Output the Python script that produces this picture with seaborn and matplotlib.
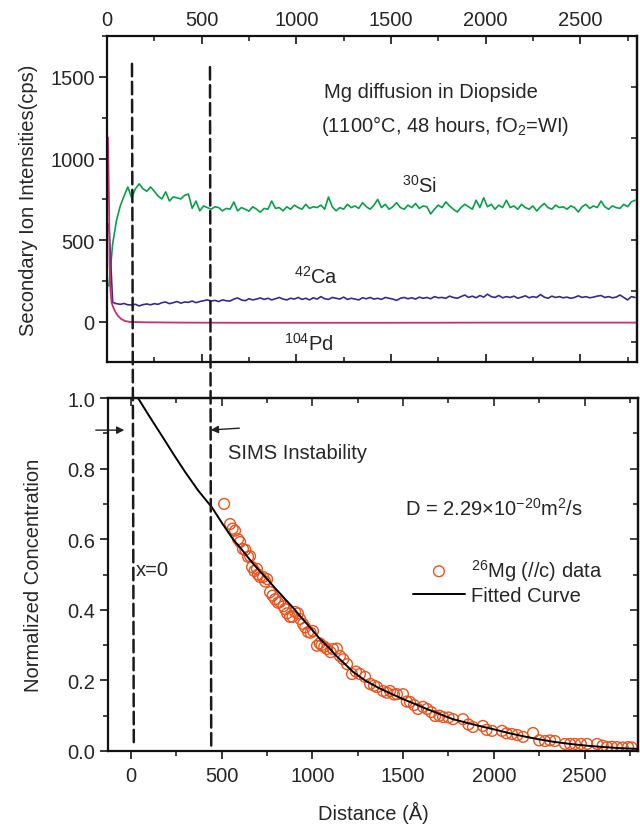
import numpy as np
import matplotlib
matplotlib.use('Agg')
import matplotlib.pyplot as plt
import seaborn as sns
from matplotlib.patches import ConnectionPatch
from matplotlib.ticker import MultipleLocator, FixedLocator, NullFormatter

# depth grid of the SIMS traces (Angstrom) and the traces
trace_x = np.arange(10, 2800, 20)

si_30 = [220, 480, 620, 710, 770, 826, 760, 815, 845, 815,
         800, 826, 800, 770, 753, 796, 740, 765, 760, 753,
         775, 783, 695, 740, 680, 710, 700, 690, 705, 700,
         680, 695, 690, 734, 680, 700, 690, 678, 705, 690,
         672, 695, 690, 740, 695, 700, 680, 705, 690, 715,
         700, 690, 720, 695, 705, 700, 715, 690, 765, 705,
         680, 700, 690, 720, 700, 710, 695, 730, 705, 690,
         715, 750, 700, 720, 690, 705, 730, 700, 690, 715,
         700, 725, 695, 710, 705, 661, 690, 715, 700, 735,
         710, 690, 673, 700, 720, 705, 690, 745, 700, 760,
         705, 720, 690, 715, 700, 745, 700, 710, 690, 720,
         700, 690, 710, 679, 705, 725, 700, 690, 715, 700,
         705, 690, 710, 700, 673, 705, 720, 695, 710, 700,
         740, 705, 690, 710, 700, 695, 720, 705, 735, 745]

ca_42 = [600, 120, 112, 108, 113, 105, 104, 108, 98, 106,
         110, 105, 112, 108, 118, 122, 112, 118, 125, 115,
         122, 120, 128, 118, 125, 130, 135, 128, 132, 125,
         135, 130, 128, 140, 147, 135, 130, 142, 135, 140,
         147, 138, 145, 135, 142, 150, 140, 135, 145, 140,
         150, 138, 145, 135, 148, 140, 155, 142, 138, 150,
         145, 140, 152, 138, 145, 140, 135, 148, 142, 150,
         140, 145, 138, 150, 145, 140, 132, 145, 150, 142,
         148, 140, 152, 145, 150, 142, 155, 148, 150, 145,
         158, 150, 145, 155, 165, 150, 158, 148, 162, 152,
         170, 155, 150, 162, 148, 155, 150, 158, 145, 152,
         160, 148, 155, 150, 168, 152, 145, 158, 150, 155,
         148, 152, 145, 150, 160, 150, 155, 148, 152, 158,
         162, 150, 155, 148, 152, 165, 150, 135, 155, 150]

pd_x = [5, 11, 14, 18, 24, 32, 45, 58, 75, 95, 120, 200, 400, 700, 1000, 1500, 2000, 2500, 2800]
pd_104 = [1130, 700, 350, 200, 120, 92, 60, 37, 18, 6, 0, -2, -4, -5, -5, -5, -4, -4, -4]

# normalized 26Mg profile
mg_x = [513, 546, 560, 573, 590, 601, 617, 630, 645, 656, 667, 680, 694, 700, 711, 728,
        740, 750, 766, 780, 794, 810, 821, 840, 849, 860, 876, 890, 904, 920, 932, 948,
        960, 976, 990, 1003, 1025, 1040, 1050, 1065, 1080, 1100, 1113, 1135, 1152, 1170,
        1191, 1218, 1240, 1262, 1290, 1318, 1340, 1356, 1389, 1410, 1428, 1450, 1466,
        1499, 1520, 1538, 1560, 1582, 1610, 1632, 1655, 1676, 1700, 1720, 1750, 1775,
        1830, 1860, 1885, 1940, 1960, 1990, 2045, 2070, 2100, 2130, 2161, 2216, 2250,
        2282, 2310, 2337, 2392, 2420, 2448, 2480, 2514, 2569, 2600, 2624, 2650, 2679,
        2710, 2740, 2760]
mg_y = [0.70, 0.643, 0.63, 0.624, 0.60, 0.592, 0.572, 0.57, 0.55, 0.552, 0.521, 0.51,
        0.516, 0.50, 0.493, 0.493, 0.48, 0.487, 0.45, 0.44, 0.43, 0.42, 0.422, 0.41,
        0.402, 0.39, 0.38, 0.38, 0.394, 0.39, 0.374, 0.36, 0.35, 0.337, 0.335, 0.34,
        0.298, 0.305, 0.30, 0.295, 0.289, 0.28, 0.289, 0.29, 0.269, 0.26, 0.246, 0.218,
        0.225, 0.218, 0.21, 0.19, 0.185, 0.181, 0.17, 0.165, 0.17, 0.16, 0.161, 0.161,
        0.14, 0.139, 0.13, 0.119, 0.125, 0.119, 0.11, 0.099, 0.10, 0.096, 0.095, 0.09,
        0.09, 0.075, 0.068, 0.071, 0.06, 0.057, 0.057, 0.05, 0.048, 0.045, 0.04, 0.051,
        0.03, 0.028, 0.03, 0.028, 0.02, 0.02, 0.02, 0.02, 0.02, 0.02, 0.015, 0.011,
        0.012, 0.011, 0.01, 0.011, 0.01]

# fitted curve, read point by point
fit_x = [38, 100, 171, 240, 300, 370, 446, 505, 562, 610, 650, 700, 750, 800, 850,
         900, 932, 990, 1042, 1090, 1130, 1180, 1224, 1290, 1360, 1430, 1500, 1570,
         1640, 1710, 1775, 1850, 1920, 1996, 2080, 2160, 2238, 2330, 2420, 2514,
         2610, 2700, 2790]
fit_y = [1.0, 0.949, 0.892, 0.836, 0.789, 0.738, 0.69, 0.643, 0.60, 0.571, 0.545,
         0.515, 0.487, 0.458, 0.43, 0.402, 0.382, 0.348, 0.317, 0.293, 0.27, 0.246,
         0.224, 0.2, 0.18, 0.163, 0.147, 0.132, 0.117, 0.103, 0.09, 0.08, 0.071,
         0.062, 0.051, 0.042, 0.034, 0.026, 0.02, 0.015, 0.011, 0.008, 0.006]

sns.set_theme(style='ticks')
plt.rcParams['font.family'] = ['Liberation Sans', 'DejaVu Sans']
plt.rcParams['mathtext.fontset'] = 'custom'
plt.rcParams['mathtext.rm'] = 'Liberation Sans'
plt.rcParams['axes.linewidth'] = 1.6
plt.rcParams['axes.edgecolor'] = '#111111'
FS = 14.5

fig = plt.figure(figsize=(6.4, 8.28), dpi=100)
ax1 = fig.add_axes([0.1672, 0.5616, 0.8281, 0.3937])
ax2 = fig.add_axes([0.1688, 0.0918, 0.8281, 0.4263])

# ---- top panel: SIMS intensities
sns.lineplot(x=trace_x, y=si_30, ax=ax1, color='#0a9e4a', lw=1.2, sort=False, errorbar=None)
sns.lineplot(x=trace_x, y=ca_42, ax=ax1, color='#3a2a8c', lw=1.2, sort=False, errorbar=None)
sns.lineplot(x=pd_x, y=pd_104, ax=ax1, color='#c8306e', lw=1.3, sort=False, errorbar=None)
ax1.set_xlim(0, 2800)
ax1.set_ylim(-245, 1750)
ax1.xaxis.set_major_locator(MultipleLocator(500))
ax1.xaxis.set_minor_locator(MultipleLocator(250))
ax1.yaxis.set_major_locator(MultipleLocator(500))
ax1.yaxis.set_minor_locator(MultipleLocator(250))
ax1.tick_params(axis='x', which='both', direction='in', top=True, bottom=True,
                labeltop=True, labelbottom=False, labelsize=FS, pad=5)
ax1.tick_params(axis='y', which='both', direction='out', right=False, labelsize=FS, pad=3)
ax1.tick_params(which='major', length=6, width=1.3)
ax1.tick_params(which='minor', length=3.5, width=1.2)
ax1.set_xlabel('')
ax1.set_ylabel('Secondary Ion Intensities(cps)', fontsize=FS, labelpad=9)
r1 = ax1.secondary_yaxis('right')
r1.yaxis.set_major_locator(FixedLocator([-125, 190, 500, 810, 1125, 1440]))
r1.yaxis.set_major_formatter(NullFormatter())
r1.tick_params(direction='in', length=4, width=1.2)

ax1.text(1145, 1410, 'Mg diffusion in Diopside', fontsize=FS, va='center')
ax1.text(1130, 1205, '(1100°C, 48 hours, fO$\\mathregular{_2}$=WI)', fontsize=FS, va='center')
ax1.text(1560, 840, '$\\mathregular{^{30}}$Si', fontsize=FS, va='center')
ax1.text(990, 285, '$\\mathregular{^{42}}$Ca', fontsize=FS, va='center')
ax1.text(935, -130, '$\\mathregular{^{104}}$Pd', fontsize=FS, va='center')

# ---- bottom panel: normalized profile
sns.scatterplot(x=mg_x, y=mg_y, ax=ax2, s=60, marker='o', facecolor='none',
                edgecolor='#e9531e', linewidth=1.0, label='$\\mathregular{^{26}}$Mg (//c) data')
sns.lineplot(x=fit_x, y=fit_y, ax=ax2, color='black', lw=1.4, errorbar=None,
             label='Fitted Curve')
ax2.set_xlim(-127, 2795)
ax2.set_ylim(0, 1.0)
ax2.xaxis.set_major_locator(MultipleLocator(500))
ax2.xaxis.set_minor_locator(MultipleLocator(250))
ax2.yaxis.set_major_locator(MultipleLocator(0.2))
ax2.yaxis.set_minor_locator(MultipleLocator(0.1))
ax2.tick_params(axis='both', which='both', direction='out', top=False, right=False, labelsize=FS)
ax2.tick_params(axis='x', pad=5)
ax2.tick_params(axis='y', pad=3)
ax2.tick_params(which='major', length=6, width=1.3)
ax2.tick_params(which='minor', length=3.5, width=1.2)
ax2.set_xlabel('Distance (Å)', fontsize=FS, labelpad=11)
ax2.set_ylabel('Normalized Concentration', fontsize=FS, labelpad=18)
t2 = ax2.secondary_xaxis('top')
t2.xaxis.set_major_locator(MultipleLocator(500))
t2.xaxis.set_minor_locator(MultipleLocator(250))
t2.xaxis.set_major_formatter(NullFormatter())
t2.tick_params(which='both', direction='in', width=1.2)
t2.tick_params(which='major', length=6)
t2.tick_params(which='minor', length=3.5)
r2 = ax2.secondary_yaxis('right')
r2.yaxis.set_major_locator(MultipleLocator(0.2))
r2.yaxis.set_minor_locator(MultipleLocator(0.1))
r2.yaxis.set_major_formatter(NullFormatter())
r2.tick_params(which='both', direction='in', width=1.2)
r2.tick_params(which='major', length=6)
r2.tick_params(which='minor', length=3.5)

ax2.legend(loc='upper left', bbox_to_anchor=(0.575, 0.55), frameon=False, fontsize=FS,
           handlelength=2.6, handletextpad=0.3, labelspacing=0.15, borderpad=0,
           borderaxespad=0, markerscale=1.0)

ax2.text(535, 0.847, 'SIMS Instability', fontsize=FS, va='center')
ax2.text(25, 0.513, 'x=0', fontsize=FS, va='center')
ax2.text(1510, 0.69, 'D = 2.29×10$\\mathregular{^{-20}}$m$\\mathregular{^{2}}$/s', fontsize=FS, va='center')

ax2.annotate('', xy=(-22, 0.909), xytext=(-210, 0.909), annotation_clip=False,
             arrowprops=dict(arrowstyle='-|>', color='#222222', lw=1.0, mutation_scale=11))
ax2.annotate('', xy=(424, 0.909), xytext=(612, 0.915), annotation_clip=False,
             arrowprops=dict(arrowstyle='-|>', color='#222222', lw=1.0, mutation_scale=11))

# dashed markers for x=0 and the end of the SIMS instability, running through both panels
for x_top, y_top, x_bot, y_bot in [(132, 1580, 15, 0.025), (544, 1560, 442, 0.006)]:
    con = ConnectionPatch(xyA=(x_top, y_top), coordsA=ax1.transData,
                          xyB=(x_bot, y_bot), coordsB=ax2.transData,
                          color='#1a1a1a', lw=1.8, linestyle=(0, (5, 2.2)))
    fig.add_artist(con)

fig.savefig('out.png', dpi=100)
